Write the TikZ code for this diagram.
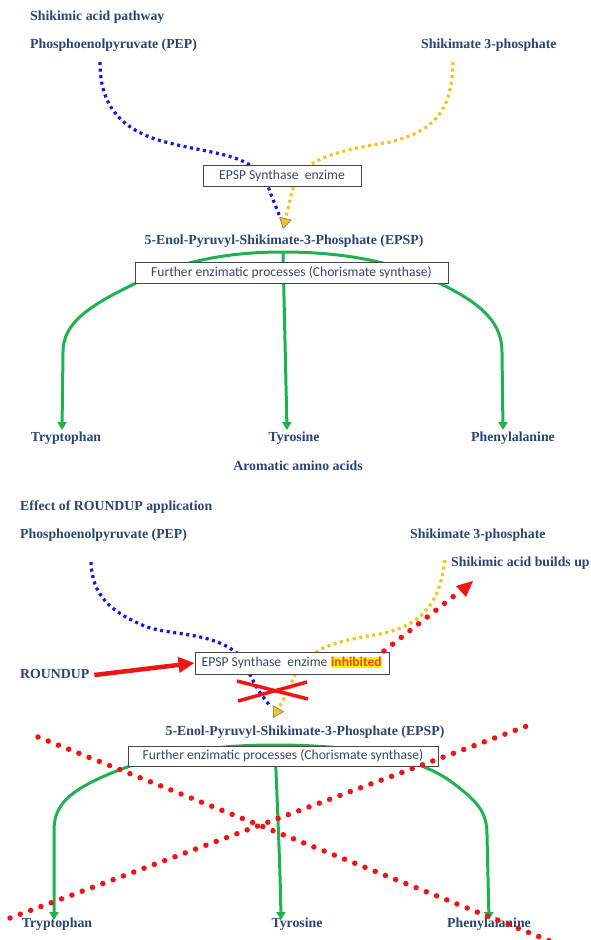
\documentclass[tikz,border=0pt]{standalone}
\usepackage{fontspec}
\setmainfont{Liberation Serif}
\newfontfamily\boxfont{Carlito}
\usetikzlibrary{arrows.meta,calc}
\definecolor{ttl}{RGB}{43,68,115}
\definecolor{boxtxt}{RGB}{58,70,100}
\definecolor{pblue}{RGB}{20,20,225}
\definecolor{pyel}{RGB}{245,196,25}
\definecolor{pgreen}{RGB}{30,178,80}
\definecolor{pred}{RGB}{240,20,20}
\definecolor{inhcol}{RGB}{240,70,20}
\pgfdeclarelayer{bg}
\pgfdeclarelayer{bgw}
\pgfsetlayers{bgw,bg,main}
\begin{document}
\begin{tikzpicture}[x=1pt,y=-1pt,
  lbl/.style={font=\bfseries\fontsize{13.8}{15}\selectfont, text=ttl, inner sep=0pt},
  ebox/.style={draw=black!72, line width=1pt, fill=white, font=\boxfont\fontsize{13.6}{15}\selectfont, text=boxtxt, inner sep=0pt, minimum height=21pt},
  bdot/.style={pblue, line width=3.2pt, dash pattern=on 3pt off 3.6pt},
  ydot/.style={pyel, line width=3.2pt, dash pattern=on 3pt off 3.6pt},
  ytip/.style={-{Triangle[width=13pt,length=11pt,fill=pyel,color=black!50,line width=0.7pt]}},
  garrow/.style={pgreen, line width=3pt, -{Triangle[width=9pt,length=8pt]}},
  rdot/.style={pred, line width=5.5pt, line cap=round, dash pattern=on 0pt off 11pt},
  rcross/.style={pred, line width=3.5pt},
]
\useasboundingbox (0,0) rectangle (591,940);
\begin{pgfonlayer}{bgw}
\fill[white] (0,0) rectangle (591,940);
\end{pgfonlayer}

% ---------------- top half ----------------
\node[lbl, anchor=west] (t1) at (30,17) {Shikimic acid pathway};
\node[lbl, anchor=west] (pep1) at (30,45) {Phosphoenolpyruvate (PEP)};
\node[lbl, anchor=west] (s3p1) at (421,45) {Shikimate 3-phosphate};
\node[ebox, minimum width=158pt] (enz1) at (282,175.5) {EPSP Synthase\ \ enzime};
\node[lbl] (epsp1) at (284,241) {5-Enol-Pyruvyl-Shikimate-3-Phosphate (EPSP)};
\node[ebox, minimum width=313pt] (fur1) at (291.5,273) {Further enzimatic processes (Chorismate synthase)};
\node[lbl] (trp1) at (66,438) {Tryptophan};
\node[lbl] (tyr1) at (294,438) {Tyrosine};
\node[lbl] (phe1) at (513,438) {Phenylalanine};
\node[lbl] (aro) at (298,466) {Aromatic amino acids};

\coordinate (b1s) at (100,62);
\coordinate (y1s) at (453,62);
\coordinate (tip1) at (283,229);
\coordinate (g1) at (283,252);

\begin{pgfonlayer}{bg}
\draw[bdot] (b1s) .. controls (100,100) and (115,125) .. (155,139)
  .. controls (210,156) and (258,150) .. (270,192) -- ($(tip1)+(-3,-12)$);
\draw[ydot, ytip] (y1s) .. controls (452,105) and (440,130) .. (390,142)
  .. controls (330,152) and (300,160) .. (292,192) -- (tip1);
\draw[garrow] (g1) .. controls (210,252) and (165,268) .. (130,286)
  .. controls (85,308) and (63,325) .. (63,352) -- (62,430);
\draw[garrow] (g1) -- (287,430);
\draw[garrow] (g1) .. controls (360,252) and (410,268) .. (445,286)
  .. controls (485,306) and (502,325) .. (502,352) -- (503,430);
\end{pgfonlayer}

% ---------------- bottom half ----------------
\node[lbl, anchor=west] (t2) at (20,507) {Effect of ROUNDUP application};
\node[lbl, anchor=west] (pep2) at (20,535) {Phosphoenolpyruvate (PEP)};
\node[lbl, anchor=west] (s3p2) at (410,535) {Shikimate 3-phosphate};
\node[lbl, anchor=west] (sab) at (451,563) {Shikimic acid builds up};
\node[lbl, anchor=west] (rup) at (20,674) {ROUNDUP};
\node[ebox, minimum width=194pt, minimum height=22pt] (enz2) at (292,663) {EPSP Synthase\ \ enzime {\setlength{\fboxsep}{0.6pt}\colorbox{yellow}{\bfseries\color{inhcol}inhibited}}};
\node[lbl] (epsp2) at (305,732) {5-Enol-Pyruvyl-Shikimate-3-Phosphate (EPSP)};
\node[ebox, minimum width=310pt, minimum height=20pt] (fur2) at (283,756) {Further enzimatic processes (Chorismate synthase)};
\node[lbl] (trp2) at (57,924) {Tryptophan};
\node[lbl] (tyr2) at (297,924) {Tyrosine};
\node[lbl] (phe2) at (489,924) {Phenylalanine};

\coordinate (b2s) at (91,562);
\coordinate (y2s) at (445,560);
\coordinate (tip2) at (273,718);
\coordinate (g2) at (275,745);
\coordinate (sa1) at (384,651);
\coordinate (sa2) at (473,581);
\coordinate (xa1) at (237,681);
\coordinate (xa2) at (308,699);
\coordinate (xb1) at (238,701);
\coordinate (xb2) at (307,682);
\coordinate (da1) at (38,737);
\coordinate (da2) at (555,943);
\coordinate (db1) at (10,918);
\coordinate (db2) at (535,723);

\begin{pgfonlayer}{bg}
\draw[bdot] (b2s) .. controls (92,595) and (110,612) .. (147,627)
  .. controls (175,636) and (215,632) .. (240,656) -- (258,690) -- ($(tip2)+(-3,-12)$);
\draw[ydot, ytip] (y2s) .. controls (440,600) and (425,625) .. (380,634)
  .. controls (330,642) and (300,650) .. (290,688) -- (tip2);
\draw[garrow] (g2) .. controls (190,745) and (140,760) .. (100,778)
  .. controls (70,792) and (54,805) .. (54,830) -- (54,920);
\draw[garrow] (g2) .. controls (277,800) and (280,860) .. (281,920);
\draw[garrow] (g2) .. controls (360,745) and (420,758) .. (453,783)
  .. controls (478,802) and (487,812) .. (487,835) -- (489,920);
\end{pgfonlayer}

\draw[rdot] (sa1) -- ($(sa1)!0.82!(sa2)$);
\fill[pred] (sa2) -- (456,586) -- (466,597) -- cycle;
\draw[pred, line width=4.5pt, -{Triangle[width=15pt,length=16pt]}] (rup.east) ++(5,1) -- (enz2.west);
\draw[rcross] (xa1) -- (xa2);
\draw[rcross] (xb1) -- (xb2);
\draw[rdot] (da1) -- (da2);
\draw[rdot] (db1) -- (db2);
\end{tikzpicture}
\end{document}
